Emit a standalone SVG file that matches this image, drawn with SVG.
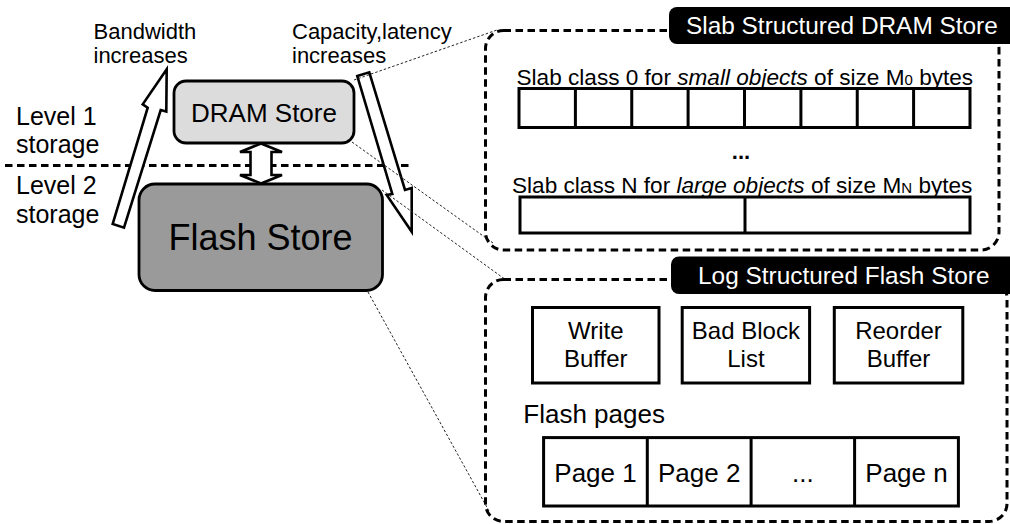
<svg xmlns="http://www.w3.org/2000/svg" width="1010" height="524" viewBox="0 0 1010 524">
  <style>
    text { font-family: "Liberation Sans", Arial, sans-serif; fill: #000; }
    .box { stroke: #000; stroke-width: 2.8; }
    .cell { fill: #fff; stroke: #000; stroke-width: 3; }
    .frame { fill: none; stroke: #000; stroke-width: 3; stroke-dasharray: 7.5 4.5; }
    .tab { fill: #000; }
    .tabtext { fill: #fff; font-size: 24.4px; }
    .hollow { fill: #fff; stroke: #000; stroke-width: 2.6; stroke-linejoin: miter; }
    .guide { fill: none; stroke: #222; stroke-width: 1; stroke-dasharray: 2.5 2; }
    .level { font-size: 25px; }
    .note { font-size: 22px; }
    .slabtxt { font-size: 22.6px; }
    .inner { font-size: 24px; text-anchor: middle; }
    .page { font-size: 26px; text-anchor: middle; }
  </style>

  <!-- level divider -->
  <g id="level-divider">
    <line x1="5" y1="165.5" x2="410" y2="165.5" stroke="#000" stroke-width="3" stroke-dasharray="7.5 4.5"/>
    <text class="level" x="16" y="125">Level 1</text>
    <text class="level" x="16" y="153">storage</text>
    <text class="level" x="16" y="194">Level 2</text>
    <text class="level" x="16" y="222.5">storage</text>
  </g>

  <!-- trend arrows -->
  <g id="bandwidth-trend">
    <polygon class="hollow" points="166.7,69.3 166.3,111.5 160.7,110 124,227.7 112.7,224 147.7,107.7 142.7,104.3"/>
    <text class="note" x="93.5" y="38.5">Bandwidth</text>
    <text class="note" x="93.5" y="62.5">increases</text>
  </g>
  <g id="capacity-trend">
    <polygon class="hollow" points="357.3,76 369.3,72.3 405,190 411.7,188 411.7,231.7 386.7,195 392.3,194"/>
    <text class="note" x="292" y="38.5">Capacity,latency</text>
    <text class="note" x="292" y="62.5">increases</text>
  </g>

  <!-- storage levels -->
  <g id="dram-store">
    <rect class="box" x="174" y="81" width="180" height="62" rx="12" fill="#dcdcdc"/>
    <text x="264" y="122" font-size="26" text-anchor="middle">DRAM Store</text>
  </g>
  <g id="flash-store">
    <rect class="box" x="139" y="184" width="243.5" height="106.5" rx="16" fill="#9a9a9a"/>
    <text x="260.5" y="250" font-size="36" text-anchor="middle">Flash Store</text>
  </g>

  <!-- connectors -->
  <g id="connectors">
    <polygon class="hollow" points="261,143.5 282,152 271.5,152 271.5,175 282,175 261,183.5 240,175 250.5,175 250.5,152 240,152"/>
    <line class="guide" x1="354" y1="80" x2="497" y2="30"/>
    <line class="guide" x1="352" y1="142" x2="493" y2="243"/>
    <line class="guide" x1="382" y1="190" x2="506" y2="280"/>
    <line class="guide" x1="368" y1="292" x2="489" y2="511"/>
  </g>

  <!-- slab structured DRAM store detail -->
  <g id="slab-store">
    <rect class="frame" x="485.5" y="30.5" width="513.5" height="219.5" rx="18"/>
    <rect class="tab" x="669" y="7" width="360" height="37" rx="8"/>
    <text class="tabtext" x="686" y="34">Slab Structured DRAM Store</text>

    <text class="slabtxt" x="516.5" y="84.5">Slab class 0 for <tspan font-style="italic">small objects</tspan> of size M<tspan font-size="15">0</tspan> bytes</text>
    <g id="slab-class-0">
      <rect class="cell" x="519" y="88.5" width="451" height="39"/>
      <path d="M575.4 88.5V127.5M631.75 88.5V127.5M688.1 88.5V127.5M744.5 88.5V127.5M800.9 88.5V127.5M857.25 88.5V127.5M913.6 88.5V127.5" stroke="#000" stroke-width="3"/>
    </g>
    <text x="741" y="159" font-size="22" font-weight="bold" text-anchor="middle">...</text>

    <text class="slabtxt" x="512" y="192.7">Slab class N for <tspan font-style="italic">large objects</tspan> of size M<tspan font-size="15">N</tspan> bytes</text>
    <g id="slab-class-n">
      <rect class="cell" x="520" y="197" width="450" height="36"/>
      <line x1="745" y1="197" x2="745" y2="233" stroke="#000" stroke-width="3"/>
    </g>
  </g>

  <!-- log structured flash store detail -->
  <g id="log-store">
    <rect class="frame" x="485.5" y="279.5" width="521.5" height="242" rx="18"/>
    <rect class="tab" x="671" y="256.5" width="360" height="37.5" rx="8"/>
    <text class="tabtext" x="698" y="284">Log Structured Flash Store</text>

    <g id="write-buffer">
      <rect class="cell" x="532.5" y="307.5" width="126.5" height="75.5" stroke-width="2.8"/>
      <text class="inner" x="595.8" y="338.5">Write</text>
      <text class="inner" x="595.8" y="366.5">Buffer</text>
    </g>
    <g id="bad-block-list">
      <rect class="cell" x="682.2" y="307.5" width="127.4" height="75.5" stroke-width="2.8"/>
      <text class="inner" x="745.9" y="338.5">Bad Block</text>
      <text class="inner" x="745.9" y="366.5">List</text>
    </g>
    <g id="reorder-buffer">
      <rect class="cell" x="834.3" y="307.5" width="128.5" height="75.5" stroke-width="2.8"/>
      <text class="inner" x="898.5" y="338.5">Reorder</text>
      <text class="inner" x="898.5" y="366.5">Buffer</text>
    </g>

    <text x="523.3" y="423" font-size="26">Flash pages</text>
    <g id="flash-pages">
      <rect class="cell" x="543.6" y="437.6" width="414.8" height="68.4"/>
      <path d="M647.3 437.6V506M751.1 437.6V506M854.6 437.6V506" stroke="#000" stroke-width="3"/>
      <text class="page" x="595.5" y="481.6">Page 1</text>
      <text class="page" x="699.2" y="481.6">Page 2</text>
      <text class="page" x="802.9" y="481.6">...</text>
      <text class="page" x="906.5" y="481.6">Page n</text>
    </g>
  </g>
</svg>
